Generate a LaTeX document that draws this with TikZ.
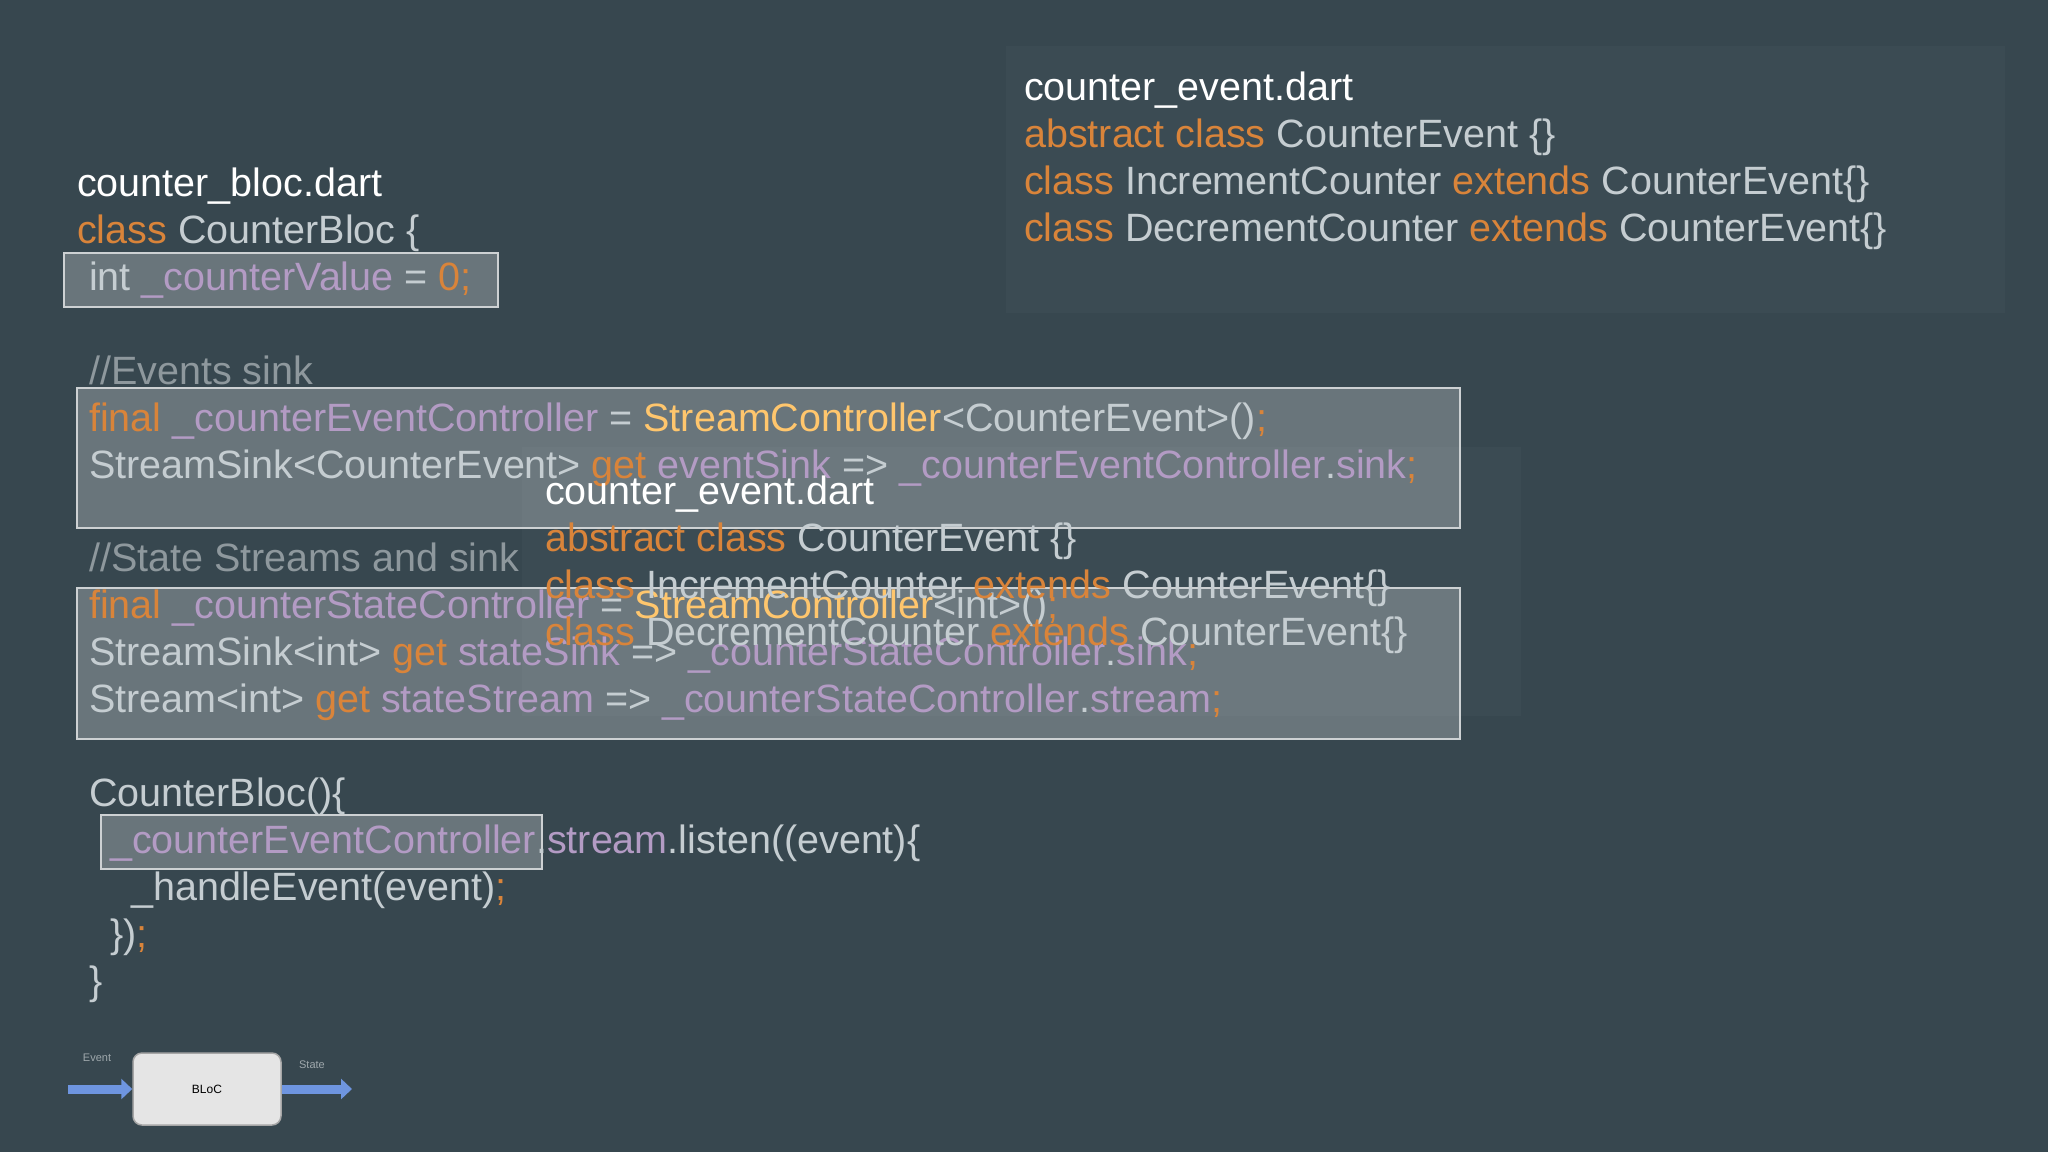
\documentclass[tikz,border=0pt]{standalone}
\usepackage{fontspec}
\setmainfont{Liberation Sans}
\usetikzlibrary{arrows.meta,shapes.arrows}
\definecolor{bg}{HTML}{37474F}
\definecolor{kw}{HTML}{D9843A}
\definecolor{pu}{HTML}{B39BC4}
\definecolor{ye}{HTML}{FFC66D}
\definecolor{tx}{HTML}{C5CDD1}
\definecolor{cm}{HTML}{8E989D}
\definecolor{arr}{HTML}{6E95E0}
\newcommand\Ko[1]{\textcolor{kw}{#1}}
\newcommand\Pu[1]{\textcolor{pu}{#1}}
\newcommand\Ye[1]{\textcolor{ye}{#1}}
\begin{document}
\begin{tikzpicture}[x=1pt,y=-1pt,
  code/.style={anchor=base west,inner sep=0pt,font=\fontsize{39.5}{48}\selectfont,text=tx},
  hl/.style={draw=white!75!bg,line width=2pt,fill=white,fill opacity=0.25},
  panel/.style={fill=white,fill opacity=0.025,draw=none},
  small/.style={font=\fontsize{11}{13}\selectfont,text=cm!85!white,inner sep=0pt}]
\fill[bg] (0,0) rectangle (2048,1152);
\useasboundingbox (0,0) rectangle (2048,1152);
% panels
\path[panel] (1006,46) rectangle (2005,313);
\path[panel] (522,447) rectangle (1521,716);
% highlight boxes
\path[hl] (64,253) rectangle (498,307);
\path[hl] (77,388) rectangle (1460,528);
\path[hl] (77,588) rectangle (1460,739);
\path[hl] (101,815) rectangle (542,869);
% top right
\node[code,text=white] (t1) at (1024,100) {counter\_event.dart};
\node[code] (t2) at (1024,147) {\Ko{abstract class} CounterEvent \{\}};
\node[code] (t3) at (1024,194) {\Ko{class} IncrementCounter \Ko{extends} CounterEvent\{\}};
\node[code] (t4) at (1024,241) {\Ko{class} DecrementCounter \Ko{extends} CounterEvent\{\}};
% left code
\node[code,text=white] (l1) at (77,196) {counter\_bloc.dart};
\node[code] (l2) at (77,243) {\Ko{class} CounterBloc \{};
\node[code] (l3) at (89,290) {int \Pu{\_counterValue} = \Ko{0;}};
\node[code,text=cm] (l4) at (89,384) {//Events sink};
\node[code] (l5) at (89,431) {\Ko{final} \Pu{\_counterEventController} = \Ye{StreamController}<CounterEvent>()\Ko{;}};
\node[code] (l6) at (89,478) {StreamSink<CounterEvent> \Ko{get} \Pu{eventSink} => \Pu{\_counterEventController}.\Pu{sink}\Ko{;}};
\node[code,text=cm] (l7) at (89,571) {//State Streams and sink};
\node[code] (l8) at (89,618) {\Ko{final} \Pu{\_counterStateController} = \Ye{StreamController}<int>()\Ko{;}};
\node[code] (l9) at (89,665) {StreamSink<int> \Ko{get} \Pu{stateSink} => \Pu{\_counterStateController}.\Pu{sink}\Ko{;}};
\node[code] (l10) at (89,712) {Stream<int> \Ko{get} \Pu{stateStream} => \Pu{\_counterStateController}.\Pu{stream}\Ko{;}};
\node[code] (l11) at (89,806) {CounterBloc()\{};
\node[code] (l12) at (110,853) {\Pu{\_counterEventController}.\Pu{stream}.listen((event)\{};
\node[code] (l13) at (131,900) {\_handleEvent(event)\Ko{;}};
\node[code] (l14) at (110,947) {\})\Ko{;}};
\node[code] (l15) at (89,994) {\}};
% overlapping middle text
\node[code,text=white] (m1) at (545,504) {counter\_event.dart};
\node[code] (m2) at (545,551) {\Ko{abstract class} CounterEvent \{\}};
\node[code] (m3) at (545,598) {\Ko{class} IncrementCounter \Ko{extends} CounterEvent\{\}};
\node[code] (m4) at (545,645) {\Ko{class} DecrementCounter \Ko{extends} CounterEvent\{\}};
% BLoC diagram
\node[draw=gray!70,line width=1.5pt,fill=gray!20,rounded corners=9pt,minimum width=148pt,minimum height=72pt,font=\fontsize{12}{14}\selectfont,text=black] (bloc) at (207,1089) {BLoC};
\coordinate (ein) at (68,1089);
\coordinate (sout) at (352,1089);
\draw[arr,line width=9pt,-{Triangle[length=11pt,width=20pt]}] (ein) -- (bloc.west);
\draw[arr,line width=9pt,-{Triangle[length=11pt,width=20pt]}] (bloc.east) -- (sout);
\node[small] (ev) at (97,1058) {Event};
\node[small] (st) at (312,1065) {State};
\end{tikzpicture}
\end{document}
